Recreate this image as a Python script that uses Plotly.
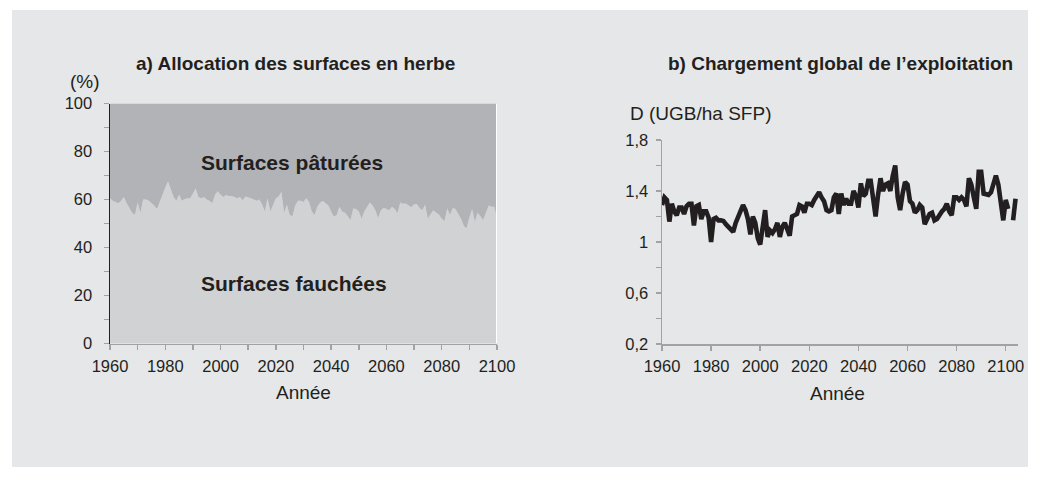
import plotly.graph_objects as go

# ---------------- data ----------------
years_a = list(range(1960, 2101))
fauchees = [
    60.5, 59.5, 59.0, 58.4, 59.5, 61.0, 58.5, 56.5, 54.5, 53.5,
    58.8, 54.5, 60.0, 60.0, 59.6, 58.5, 57.5, 56.0, 59.0, 62.5,
    65.0, 67.5, 64.5, 61.0, 59.5, 62.0, 59.5, 60.2, 60.5, 60.5,
    62.5, 64.6, 61.0, 60.5, 60.9, 60.0, 59.5, 58.4, 62.0, 63.4,
    62.0, 61.0, 61.9, 61.5, 61.5, 61.0, 60.5, 61.0, 59.7, 61.2,
    61.0, 60.5, 60.0, 59.5, 60.0, 58.0, 55.0, 60.5, 55.0, 58.0,
    60.5, 61.2, 63.2, 54.5, 57.8, 53.5, 53.0, 57.5, 59.5, 59.5,
    59.0, 60.5, 59.0, 55.0, 53.5, 57.0, 58.8, 59.4, 58.5, 57.5,
    55.0, 52.8, 53.5, 57.0, 55.0, 54.5, 53.0, 51.5, 56.3, 56.0,
    55.0, 52.0, 55.0, 57.0, 58.7, 57.5, 55.5, 52.3, 55.5, 56.6,
    56.0, 55.5, 57.0, 56.0, 54.3, 58.7, 58.2, 58.3, 57.5, 56.8,
    58.0, 58.0, 56.5, 55.5, 57.8, 52.0, 54.0, 55.5, 54.5, 53.8,
    52.0, 51.0, 56.3, 53.5, 56.5, 56.0, 54.0, 52.0, 49.0, 48.0,
    52.5, 56.0, 50.7, 54.5, 53.0, 51.5, 54.5, 57.5, 57.0, 57.0,
    52.0,
]
paturees = [100 - v for v in fauchees]

years_b = list(range(1960, 2105))
chargement = [
    1.29, 1.35, 1.33, 1.16, 1.30, 1.24, 1.21, 1.27, 1.27, 1.22,
    1.28, 1.30, 1.30, 1.13, 1.28, 1.29, 1.18, 1.24, 1.24, 1.19,
    1.00, 1.18, 1.19, 1.17, 1.17, 1.165, 1.14, 1.12, 1.09, 1.08,
    1.15, 1.19, 1.23, 1.29, 1.25, 1.18, 1.06, 1.20, 1.15, 1.03,
    0.98, 1.15, 1.25, 1.04, 1.09, 1.07, 1.10, 1.15, 1.04, 1.12,
    1.15, 1.10, 1.05, 1.20, 1.21, 1.22, 1.29, 1.28, 1.23, 1.30,
    1.30, 1.29, 1.33, 1.37, 1.39, 1.35, 1.32, 1.25, 1.24, 1.25,
    1.35, 1.38, 1.22, 1.38, 1.29, 1.34, 1.30, 1.30, 1.40, 1.36,
    1.27, 1.46, 1.36, 1.38, 1.48, 1.48, 1.30, 1.20, 1.37, 1.50,
    1.40, 1.45, 1.46, 1.40, 1.52, 1.60, 1.35, 1.25, 1.38, 1.47,
    1.45, 1.32, 1.30, 1.23, 1.25, 1.29, 1.27, 1.14, 1.18, 1.22,
    1.23, 1.17, 1.18, 1.22, 1.24, 1.26, 1.30, 1.24, 1.21, 1.35,
    1.35, 1.33, 1.35, 1.33, 1.28, 1.50, 1.45, 1.35, 1.26, 1.55,
    1.55, 1.38, 1.37, 1.37, 1.39, 1.45, 1.52, 1.45, 1.28, 1.17,
    1.33, 1.26, None, 1.17, 1.34,
]

x_ticks = [1960, 1980, 2000, 2020, 2040, 2060, 2080, 2100]
ya_ticks = [0, 20, 40, 60, 80, 100]
yb_ticks = [0.2, 0.6, 1, 1.4, 1.8]

# ---------------- style ----------------
W, H = 1040, 479
FONT = "Liberation Sans, Arial, sans-serif"
TXT = "#231f20"
PANEL = "#e6e7e8"
LIGHT = "#d1d2d4"
DARK = "#b2b3b6"
AXGREY = "#a0a2a5"


def px_x(p):
    return p / W


def px_y(p):
    return 1 - p / H


fig = go.Figure()

fig.add_trace(go.Scatter(
    x=years_a, y=fauchees, stackgroup="a", mode="lines",
    line=dict(width=0, color=LIGHT), fillcolor=LIGHT,
    xaxis="x", yaxis="y", showlegend=False, hoverinfo="skip"))
fig.add_trace(go.Scatter(
    x=years_a, y=paturees, stackgroup="a", mode="lines",
    line=dict(width=0, color=DARK), fillcolor=DARK,
    xaxis="x", yaxis="y", showlegend=False, hoverinfo="skip"))

fig.add_trace(go.Scatter(
    x=years_b, y=chargement, mode="lines", connectgaps=False,
    line=dict(width=4.6, color=TXT),
    xaxis="x2", yaxis="y2", showlegend=False))

tickfont = dict(family=FONT, size=16.5, color=TXT)
common = dict(ticks="outside", ticklen=5, tickwidth=1.5, tickcolor=AXGREY,
              showline=True, linewidth=1.5, showgrid=False, zeroline=False,
              tickfont=tickfont, automargin=False, fixedrange=True)

fig.update_layout(
    width=W, height=H,
    margin=dict(l=0, r=0, t=0, b=0, pad=0, autoexpand=False),
    paper_bgcolor="white",
    plot_bgcolor="rgba(0,0,0,0)",
    separators=", ",
    showlegend=False,
    font=dict(family=FONT, color=TXT),
    xaxis=dict(
        domain=[px_x(110), px_x(497)], range=[1960, 2100],
        tickvals=x_ticks, linecolor=AXGREY,
        minor=dict(dtick=10, tick0=1960, ticks="outside", ticklen=5,
                   tickwidth=1.5, tickcolor=AXGREY),
        anchor="y", ticklabelstandoff=2, **common,
    ),
    yaxis=dict(
        domain=[px_y(343.5), px_y(103.5)], range=[0, 100],
        tickvals=ya_ticks, linecolor=TXT,
        minor=dict(dtick=10, tick0=0, ticks="outside", ticklen=5,
                   tickwidth=1.5, tickcolor=AXGREY),
        anchor="x", ticklabelstandoff=8, **common,
    ),
    xaxis2=dict(
        domain=[px_x(662), px_x(1018)], range=[1960, 2105],
        tickvals=x_ticks, linecolor=AXGREY,
        anchor="y2", ticklabelstandoff=2, **common,
    ),
    yaxis2=dict(
        domain=[px_y(344), px_y(140)], range=[0.2, 1.8],
        tickvals=yb_ticks, linecolor=AXGREY,
        minor=dict(dtick=0.2, tick0=0.2, ticks="outside", ticklen=5,
                   tickwidth=1.5, tickcolor=AXGREY),
        anchor="x2", ticklabelstandoff=4, **common,
    ),
)

# grey panel
fig.add_shape(type="rect", xref="paper", yref="paper",
              x0=px_x(12), x1=px_x(1028), y0=px_y(467), y1=px_y(10),
              fillcolor=PANEL, line=dict(width=0), layer="below")
# white right border of area chart
fig.add_shape(type="line", xref="x", yref="y",
              x0=2100, x1=2100, y0=0, y1=100,
              line=dict(color="white", width=2))


def add_text(text, x, y, size, bold=False, xanchor="center", xref="paper", yref="paper"):
    fig.add_annotation(
        text=f"<b>{text}</b>" if bold else text,
        x=x, y=y, xref=xref, yref=yref, showarrow=False,
        xanchor=xanchor, yanchor="middle",
        font=dict(family=FONT, size=size, color=TXT))


add_text("a) Allocation des surfaces en herbe", px_x(295), px_y(63), 19, bold=True)
add_text("b) Chargement global de l\u2019exploitation", px_x(840), px_y(63), 19, bold=True)
add_text("(%)", px_x(85), px_y(82), 19)
add_text("D (UGB/ha SFP)", px_x(628), px_y(114), 19, xanchor="left")
add_text("Ann\u00e9e", px_x(303), px_y(392), 19)
add_text("Ann\u00e9e", px_x(837), px_y(393), 19)
add_text("Surfaces p\u00e2tur\u00e9es", 2026, 75.6, 21, bold=True, xref="x", yref="y")
add_text("Surfaces fauch\u00e9es", 2026.6, 24.8, 21, bold=True, xref="x", yref="y")

fig.write_html(
    "out.html",
    config={"displayModeBar": False, "staticPlot": True},
    post_script="document.body.style.margin='0';document.body.style.overflow='hidden';",
)
